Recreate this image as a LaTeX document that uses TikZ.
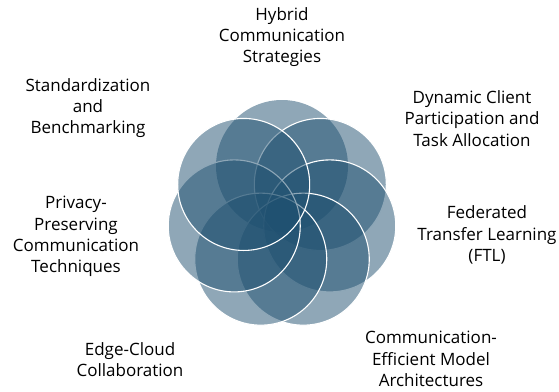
\documentclass[tikz,border=0pt]{standalone}
\usepackage{fontspec}
\setmainfont{Open Sans}
\definecolor{petalblue}{RGB}{31,80,112}
\begin{document}
\begin{tikzpicture}[x=1pt, y=-1pt]
\tikzstyle{petal}=[circle, draw=white, line width=1.1pt, fill=petalblue, fill opacity=0.5, minimum size=132pt, inner sep=0pt]
\tikzstyle{lbl}=[align=center, inner sep=0pt, font=\fontsize{17}{21.3}\selectfont]
\useasboundingbox (0,0) rectangle (559,391);

% ring of seven overlapping circles, clockwise from the top
\node[petal, draw=none] (p1) at (282,166) {};
\foreach \i/\a in {2/38.57, 3/-12.86, 4/-64.29, 5/-115.71, 6/-167.14, 7/141.43}
  \node[petal] (p\i) at ({282+49*cos(\a)},{215-49*sin(\a)}) {};

\node[lbl] (hyb) at (282,37) {Hybrid\\Communication\\Strategies};
\node[lbl] (dyn) at (472,118.5) {Dynamic Client\\Participation and\\Task Allocation};
\node[lbl] (fed) at (487,235) {Federated\\Transfer Learning\\(FTL)};
\node[lbl] (cee) at (431,359) {Communication-\\Efficient Model\\Architectures};
\node[lbl] (edg) at (130,359.5) {Edge-Cloud\\Collaboration};
\node[lbl] (prv) at (76,236.7) {Privacy-\\Preserving\\Communication\\Techniques};
\node[lbl] (std) at (88,108) {Standardization\\and\\Benchmarking};
\end{tikzpicture}
\end{document}
